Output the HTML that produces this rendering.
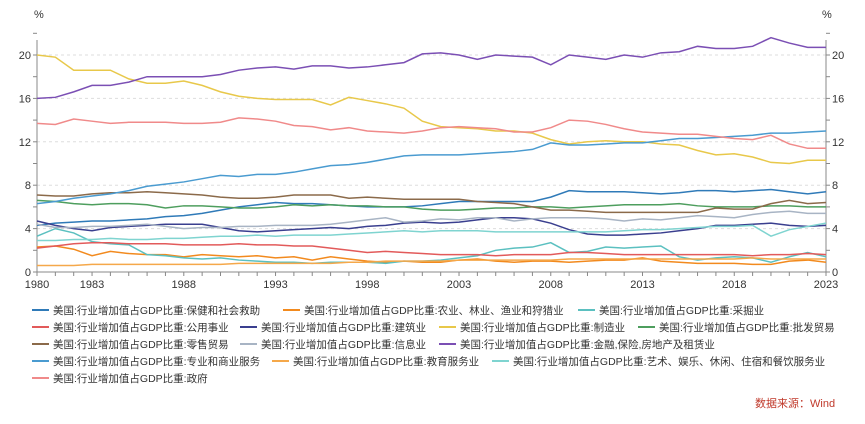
<!DOCTYPE html>
<html><head><meta charset="utf-8"><style>
body{margin:0;background:#fff;font-family:"Liberation Sans","Noto Sans CJK SC",sans-serif;}
svg text{font-family:"Liberation Sans","Noto Sans CJK SC",sans-serif;}
</style></head><body>
<svg id="c" width="865" height="419"></svg>
<script>
const years=[];for(let y=1980;y<=2023;y++)years.push(y);
const yTicks=[0,4,8,12,16,20];
const xTickLabels=[1980,1983,1988,1993,1998,2003,2008,2013,2018,2023];
const names=["保健和社会救助","农业、林业、渔业和狩猎业","采掘业","公用事业","建筑业","制造业","批发贸易","零售贸易","信息业","金融,保险,房地产及租赁业","专业和商业服务","教育服务业","艺术、娱乐、休闲、住宿和餐饮服务业","政府"];
const colors=["#2f7ab8","#f28a1e","#5bc0c0","#e25a5a","#3a3f8f","#e8c84a","#4e9e5e","#8b6a4a","#a8b4c4","#7b4fb4","#4a9bd0","#f5a84a","#7fd4d0","#f08a8a"];
const sHealth=[4.3,4.5,4.6,4.7,4.7,4.8,4.9,5.1,5.2,5.4,5.7,6.0,6.2,6.4,6.3,6.3,6.2,6.1,6.0,6.0,6.0,6.1,6.3,6.5,6.5,6.5,6.5,6.5,6.9,7.5,7.4,7.4,7.4,7.3,7.2,7.3,7.5,7.5,7.4,7.5,7.6,7.4,7.2,7.4];
const sAgri=[2.3,2.4,2.1,1.5,1.9,1.7,1.6,1.6,1.4,1.6,1.5,1.4,1.5,1.3,1.4,1.1,1.4,1.2,1.0,0.9,1.0,0.9,0.9,1.1,1.2,1.0,0.9,1.0,1.0,0.9,1.0,1.1,1.1,1.3,1.0,0.9,0.8,0.8,0.8,0.7,0.7,1.0,1.1,0.9];
const sMining=[3.3,4.0,3.6,2.8,2.6,2.5,1.6,1.5,1.3,1.2,1.3,1.1,1.0,0.9,0.9,0.8,0.9,0.9,0.9,0.8,1.0,1.0,1.1,1.3,1.5,2.0,2.2,2.3,2.7,1.8,1.9,2.3,2.2,2.3,2.4,1.4,1.1,1.3,1.4,1.3,0.9,1.4,1.8,1.4];
const sUtil=[2.2,2.4,2.6,2.7,2.7,2.6,2.6,2.6,2.5,2.5,2.5,2.6,2.5,2.5,2.4,2.4,2.2,2.0,1.8,1.9,1.8,1.7,1.6,1.6,1.6,1.5,1.6,1.6,1.6,1.8,1.8,1.7,1.6,1.6,1.6,1.6,1.6,1.6,1.6,1.5,1.6,1.6,1.7,1.6];
const sConstr=[4.7,4.3,4.0,3.8,4.1,4.2,4.3,4.4,4.4,4.4,4.1,3.8,3.7,3.8,3.9,4.0,4.1,4.0,4.2,4.3,4.5,4.6,4.5,4.6,4.8,5.0,5.0,4.9,4.5,3.9,3.5,3.4,3.4,3.5,3.6,3.8,4.0,4.3,4.3,4.4,4.5,4.3,4.2,4.3];
const sManu=[20.0,19.8,18.6,18.6,18.6,17.8,17.4,17.4,17.6,17.2,16.6,16.2,16.0,15.9,15.9,15.9,15.4,16.1,15.8,15.5,15.1,13.9,13.4,13.3,13.2,13.0,13.0,12.8,12.2,11.8,12.0,12.1,12.0,12.0,11.8,11.7,11.2,10.8,10.9,10.6,10.1,10.0,10.3,10.3];
const sWholesale=[6.6,6.5,6.3,6.2,6.3,6.3,6.2,5.9,6.1,6.1,6.0,5.9,5.9,6.0,6.2,6.1,6.2,6.1,6.1,6.0,6.0,5.8,5.7,5.7,5.8,5.9,5.9,6.0,6.0,5.9,6.0,6.1,6.2,6.2,6.2,6.3,6.1,6.0,6.0,6.0,6.1,6.1,6.0,6.0];
const sRetail=[7.1,7.0,7.0,7.2,7.3,7.3,7.4,7.3,7.2,7.1,6.9,6.8,6.8,6.9,7.1,7.1,7.1,6.8,6.9,6.8,6.7,6.7,6.7,6.7,6.5,6.4,6.3,6.0,5.7,5.7,5.6,5.5,5.5,5.5,5.5,5.5,5.5,5.9,5.8,5.8,6.3,6.6,6.3,6.4];
const sInfo=[4.4,4.1,4.1,4.2,4.2,4.3,4.4,4.2,4.0,4.1,4.1,4.2,4.2,4.3,4.3,4.3,4.4,4.6,4.8,5.0,4.6,4.7,4.9,4.8,5.0,5.0,4.7,4.9,5.0,5.0,5.0,4.9,4.7,4.9,4.8,5.0,5.2,5.1,5.0,5.3,5.5,5.6,5.4,5.4];
const sFin=[16.0,16.1,16.6,17.2,17.2,17.5,18.0,18.0,18.0,18.0,18.2,18.6,18.8,18.9,18.7,19.0,19.0,18.8,18.9,19.1,19.3,20.1,20.2,20.0,19.6,20.0,19.9,19.8,19.1,20.0,19.8,19.6,20.0,19.8,20.2,20.3,20.8,20.6,20.6,20.8,21.6,21.1,20.7,20.7];
const sProf=[6.3,6.5,6.8,7.0,7.2,7.5,7.9,8.1,8.3,8.6,8.9,8.8,9.0,9.0,9.2,9.5,9.8,9.9,10.1,10.4,10.7,10.8,10.8,10.8,10.9,11.0,11.1,11.3,11.9,11.7,11.7,11.8,11.9,11.9,12.1,12.3,12.3,12.4,12.5,12.6,12.8,12.8,12.9,13.0];
const sEdu=[0.6,0.6,0.6,0.7,0.7,0.7,0.7,0.7,0.7,0.7,0.7,0.8,0.8,0.8,0.8,0.8,0.8,0.9,0.9,1.0,1.0,1.0,1.0,1.1,1.1,1.1,1.1,1.1,1.1,1.2,1.2,1.2,1.2,1.2,1.2,1.2,1.2,1.2,1.2,1.3,1.2,1.2,1.2,1.2];
const sArts=[2.9,2.9,3.0,3.0,3.1,3.0,3.0,3.1,3.1,3.2,3.3,3.3,3.4,3.3,3.4,3.4,3.4,3.5,3.6,3.7,3.8,3.7,3.8,3.8,3.8,3.7,3.7,3.7,3.7,3.7,3.7,3.7,3.8,3.9,3.9,4.0,4.1,4.2,4.2,4.3,3.3,3.9,4.2,4.5];
const sGov=[13.7,13.6,14.1,13.9,13.7,13.8,13.8,13.8,13.7,13.7,13.8,14.2,14.1,13.9,13.5,13.4,13.1,13.3,13.0,12.9,12.8,13.0,13.3,13.4,13.3,13.2,12.9,12.9,13.3,14.0,13.9,13.6,13.2,12.9,12.8,12.7,12.7,12.5,12.3,12.2,12.6,11.8,11.4,11.4];
const series=[sHealth,sAgri,sMining,sUtil,sConstr,sManu,sWholesale,sRetail,sInfo,sFin,sProf,sEdu,sArts,sGov];

const NS="http://www.w3.org/2000/svg",svg=document.getElementById('c');
const L=37,R=826,T=55,B=272;
const x=y=>L+(y-1980)/(2023-1980)*(R-L);
const yv=v=>B-v/20*(B-T);
function el(t,a,p){const e=document.createElementNS(NS,t);for(const k in a)e.setAttribute(k,a[k]);(p||svg).appendChild(e);return e;}
function tx(s,a){const e=el('text',a);e.textContent=s;return e;}
yTicks.forEach(v=>{if(v>0){const g=el('line',{x1:L,x2:R,y1:yv(v),y2:yv(v),stroke:'#ddd','stroke-dasharray':'3,3'});

}
const a=tx(v,{x:L-6,y:yv(v)+4,'text-anchor':'end','font-size':11,fill:'#333'});


const b=tx(v,{x:R+6,y:yv(v)+4,'font-size':11,fill:'#333'});

});
for(let v=0;v<=22;v+=2){el('line',{x1:L-4,x2:L,y1:yv(v),y2:yv(v),stroke:'#888'});el('line',{x1:R,x2:R+4,y1:yv(v),y2:yv(v),stroke:'#888'});}
el('line',{x1:L,x2:L,y1:40,y2:B,stroke:'#888'});el('line',{x1:R,x2:R,y1:40,y2:B,stroke:'#888'});
el('line',{x1:L,x2:R,y1:B,y2:B,stroke:'#888'});
const u1=tx('%',{x:34,y:18,'font-size':11,fill:'#333'});
const u2=tx('%',{x:822,y:18,'font-size':11,fill:'#333'});
years.forEach(y=>el('line',{x1:x(y),x2:x(y),y1:B,y2:B+4,stroke:'#888'}));
xTickLabels.forEach(y=>{const t=tx(y,{x:x(y),y:B+16,'text-anchor':'middle','font-size':11,fill:'#333'});

});
series.forEach((s,i)=>{const p=el('polyline',{points:s.map((v,j)=>x(years[j])+','+yv(v)).join(' '),fill:'none',stroke:colors[i],'stroke-width':1.5});

});
const pos=[[32,310],[283,310],[578,310],[32,327],[240,327],[439,327],[638,327],[32,344],[240,344],[439,344],[32,361],[272,361],[492,361],[32,378]];
names.forEach((n,i)=>{const [lx,ly]=pos[i];
const g=el('g',{});


el('line',{x1:lx,x2:lx+17,y1:ly,y2:ly,stroke:colors[i],'stroke-width':2},g);
const t=el('text',{x:lx+21,y:ly+4,'font-size':10.5,fill:'#333'},g);t.textContent='美国:行业增加值占GDP比重:'+n;});
const src=tx('数据来源：Wind',{x:755,y:407,'font-size':11,fill:'#c0392b'});


</script>
</body></html>
